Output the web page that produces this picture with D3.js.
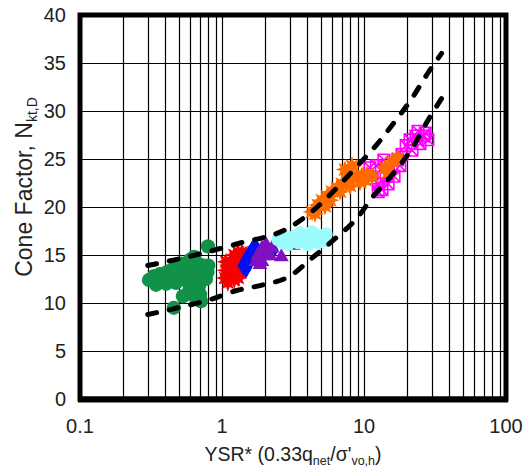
<!DOCTYPE html>
<html>
<head>
<meta charset="utf-8">
<script src="https://cdn.jsdelivr.net/npm/d3@7"></script>
<style>
  html, body { margin: 0; padding: 0; background: #fff; }
  svg { display: block; font-family: "Liberation Sans", Arial, Helvetica, sans-serif; }
</style>
</head>
<body>
<svg id="chart" width="528" height="468"></svg>
<script>
// ---- axis ticks & grid values ----
const xTickLabels = [0.1, 1, 10, 100];
const yTickLabels = [0, 5, 10, 15, 20, 25, 30, 35, 40];
const xGridValues = [0.2, 0.3, 0.4, 0.5, 0.6, 0.7, 0.8, 0.9, 1,
                     2, 3, 4, 5, 6, 7, 8, 9, 10,
                     20, 30, 40, 50, 60, 70, 80, 90];
const yGridValues = [5, 10, 15, 20, 25, 30, 35];

// ---- measured points: [YSR*, Nkt,D] ----
const greenPts = [
  [0.306, 12.4], [0.332, 12.8], [0.354, 12.2], [0.365, 13.0], [0.391, 12.5],
  [0.417, 13.3], [0.431, 12.6], [0.467, 13.7], [0.490, 12.9], [0.522, 14.1],
  [0.557, 13.4], [0.595, 14.5], [0.635, 14.8], [0.615, 13.6], [0.678, 14.1],
  [0.746, 13.9], [0.790, 13.2], [0.800, 13.9], [0.723, 13.0], [0.656, 12.6],
  [0.689, 11.8], [0.700, 10.9], [0.711, 10.2], [0.656, 10.5], [0.595, 11.6],
  [0.531, 10.7], [0.458, 9.5], [0.796, 15.9], [0.548, 12.4], [0.474, 12.1],
  [0.404, 12.0], [0.343, 11.9], [0.577, 12.8], [0.771, 12.5], [0.577, 11.0],
  [0.620, 12.2], [0.500, 13.3], [0.440, 13.0], [0.380, 13.0], [0.640, 11.3]
];
const redPts = [
  [1.067, 13.4], [1.14, 14.3], [1.22, 15.0], [1.30, 15.3], [1.38, 15.3],
  [1.34, 14.5], [1.26, 13.9], [1.14, 13.2], [1.05, 12.6], [1.10, 12.1],
  [1.22, 12.4], [1.34, 13.2], [1.43, 14.1], [1.30, 12.6], [1.067, 14.3]
];
const bluePts = [
  [1.41, 13.9], [1.48, 14.5], [1.55, 15.0], [1.63, 15.5], [1.71, 15.9],
  [1.57, 14.3], [1.48, 13.6], [2.29, 15.5]
];
const purplePts = [
  [1.73, 14.3], [1.79, 15.0], [1.91, 15.7], [2.04, 16.1], [1.98, 14.9],
  [1.85, 14.0], [2.11, 15.3], [2.25, 15.7], [1.91, 14.3], [2.18, 14.9],
  [2.62, 14.8], [3.16, 16.0]
];
const cyanPts = [
  [2.48, 16.6], [2.73, 17.0], [3.01, 16.8], [3.32, 17.0], [3.66, 16.8],
  [4.03, 17.0], [4.44, 16.8], [4.90, 17.0], [5.40, 17.2], [5.40, 16.5],
  [4.74, 16.3], [4.03, 16.1], [3.43, 16.3], [2.92, 16.1], [2.65, 16.3],
  [4.31, 17.4], [3.54, 17.3]
];
const magentaPts = [
  [11.0, 24.1], [12.2, 24.3], [11.4, 23.0], [12.6, 22.4], [13.4, 21.8],
  [12.6, 21.6], [14.8, 22.4], [14.3, 23.2], [15.7, 24.1], [17.3, 24.9],
  [18.5, 25.5], [19.8, 26.4], [17.9, 24.3], [21.1, 27.0], [23.2, 27.4],
  [26.5, 27.4], [28.2, 27.0], [24.8, 26.6], [21.8, 25.9], [16.3, 23.2],
  [13.8, 24.9], [27.0, 27.7], [24.0, 27.9]
];
const orangePts = [
  [4.31, 19.5], [4.74, 20.2], [5.06, 20.7], [5.49, 21.1], [5.95, 21.6],
  [6.45, 22.0], [7.00, 22.4], [7.59, 22.8], [8.23, 23.1], [8.93, 23.3],
  [9.68, 23.3], [10.5, 23.4], [11.4, 23.2], [7.35, 23.9], [8.23, 24.3],
  [5.77, 20.7], [6.78, 21.6], [7.97, 22.2], [9.37, 22.6], [5.31, 20.1],
  [4.52, 19.3], [10.2, 22.8], [14.1, 24.1], [15.7, 24.7], [17.3, 25.1],
  [14.8, 23.6]
];

// ---- bounding trend lines ----
const upperBound = [
  [0.30, 13.9], [0.534, 14.7], [1.27, 16.15], [3.01, 17.9], [4.28, 19.5],
  [6.25, 21.8], [8.88, 24.2], [12.3, 26.5], [16.5, 28.9], [21.7, 31.3],
  [27.6, 33.75], [35.2, 36.0]
];
const lowerBound = [
  [0.30, 8.8], [0.506, 9.55], [0.801, 10.3], [1.27, 11.3], [1.95, 11.9],
  [3.01, 12.8], [4.28, 14.65], [6.25, 16.7], [8.88, 18.8], [11.6, 21.1],
  [16.1, 23.5], [22.2, 26.3], [28.4, 29.1], [35.2, 31.3]
];

// ---- layout ----
const svg = d3.select("#chart");
const plotL = 80, plotR = 506, plotT = 15, plotB = 399;

const x = d3.scaleLog().domain([0.1, 100]).range([plotL, plotR]);
const y = d3.scaleLinear().domain([0, 40]).range([plotB, plotT]);

// grid
const grid = svg.append("g").attr("stroke", "#000").attr("stroke-width", 1.2);
grid.selectAll("line.v").data(xGridValues).join("line").attr("class", "v")
  .attr("x1", d => Math.round(x(d)) + 0.5).attr("x2", d => Math.round(x(d)) + 0.5)
  .attr("y1", plotT).attr("y2", plotB);
grid.selectAll("line.h").data(yGridValues).join("line").attr("class", "h")
  .attr("y1", d => Math.round(y(d)) + 0.5).attr("y2", d => Math.round(y(d)) + 0.5)
  .attr("x1", plotL).attr("x2", plotR);

// custom spiky marker for the asterisk series
const burst = {
  draw(ctx, size) {
    const r = Math.sqrt(size) * 0.72, ri = r * 0.5, n = 8;
    for (let i = 0; i < 2 * n; i++) {
      const a = Math.PI * i / n - Math.PI / 2;
      const rr = i % 2 ? ri : r;
      const px = rr * Math.cos(a), py = rr * Math.sin(a);
      if (i) ctx.lineTo(px, py); else ctx.moveTo(px, py);
    }
    ctx.closePath();
  }
};
// square with an X inside
const boxX = {
  draw(ctx, size) {
    const h = Math.sqrt(size) / 2;
    ctx.moveTo(-h, -h); ctx.lineTo(h, -h); ctx.lineTo(h, h); ctx.lineTo(-h, h); ctx.closePath();
    ctx.moveTo(-h, -h); ctx.lineTo(h, h);
    ctx.moveTo(h, -h); ctx.lineTo(-h, h);
  }
};

const series = [
  { pts: greenPts,   type: d3.symbolCircle,   size: 160, fill: "#12914a", stroke: "none" },
  { pts: redPts,     type: burst,             size: 160, fill: "#f40000", stroke: "none" },
  { pts: bluePts,    type: d3.symbolDiamond,  size: 110, fill: "#0010f0", stroke: "none" },
  { pts: purplePts,  type: d3.symbolTriangle, size: 95,  fill: "#8010c0", stroke: "none" },
  { pts: cyanPts,    type: d3.symbolCircle,   size: 140, fill: "#9cfbfb", stroke: "none" },
  { pts: magentaPts, type: boxX,              size: 130, fill: "none",    stroke: "#ff00ff" },
  { pts: orangePts,  type: burst,             size: 170, fill: "#ff6a00", stroke: "none" }
];

const marks = svg.append("g");
series.forEach(s => {
  const sym = d3.symbol().type(s.type).size(s.size);
  marks.append("g").selectAll("path").data(s.pts).join("path")
    .attr("transform", d => `translate(${x(d[0])},${y(d[1])})`)
    .attr("d", sym)
    .attr("fill", s.fill)
    .attr("stroke", s.stroke)
    .attr("stroke-width", 1.6);
});

// dashed bounds
const line = d3.line().x(d => x(d[0])).y(d => y(d[1])).curve(d3.curveMonotoneX);
svg.append("g").selectAll("path").data([upperBound, lowerBound]).join("path")
  .attr("d", line)
  .attr("fill", "none")
  .attr("stroke", "#000")
  .attr("stroke-width", 5)
  .attr("stroke-linecap", "round")
  .attr("stroke-dasharray", "9,13");

// frame
svg.append("rect")
  .attr("x", plotL).attr("y", plotT)
  .attr("width", plotR - plotL).attr("height", plotB - plotT)
  .attr("fill", "none").attr("stroke", "#000").attr("stroke-width", 5);
svg.append("line")
  .attr("x1", plotL - 2).attr("x2", plotR + 2)
  .attr("y1", plotB + 0.5).attr("y2", plotB + 0.5)
  .attr("stroke", "#000").attr("stroke-width", 6);

// tick labels
svg.append("g").selectAll("text").data(xTickLabels).join("text")
  .attr("x", d => x(d)).attr("y", 433)
  .attr("text-anchor", "middle")
  .attr("font-size", 20).attr("fill", "#222")
  .text(d => d3.format("~g")(d));

svg.append("g").selectAll("text").data(yTickLabels).join("text")
  .attr("x", 66).attr("y", d => y(d))
  .attr("dy", "0.36em")
  .attr("text-anchor", "end")
  .attr("font-size", 20).attr("fill", "#222")
  .text(d => d);

// axis titles
const xt = svg.append("text")
  .attr("x", (plotL + plotR) / 2).attr("y", 461)
  .attr("text-anchor", "middle").attr("font-size", 19.5).attr("fill", "#222");
xt.append("tspan").text("YSR* (0.33q");
xt.append("tspan").attr("font-size", 12.5).attr("dy", 4).text("net");
xt.append("tspan").attr("dy", -4).text("/σ'");
xt.append("tspan").attr("font-size", 12.5).attr("dy", 4).text("vo,h");
xt.append("tspan").attr("dy", -4).text(")");

const yt = svg.append("text")
  .attr("transform", "translate(32,187) rotate(-90)")
  .attr("text-anchor", "middle").attr("font-size", 23).attr("fill", "#222");
yt.append("tspan").text("Cone Factor, N");
yt.append("tspan").attr("font-size", 14).attr("dy", 5).text("kt,D");
</script>
</body>
</html>
